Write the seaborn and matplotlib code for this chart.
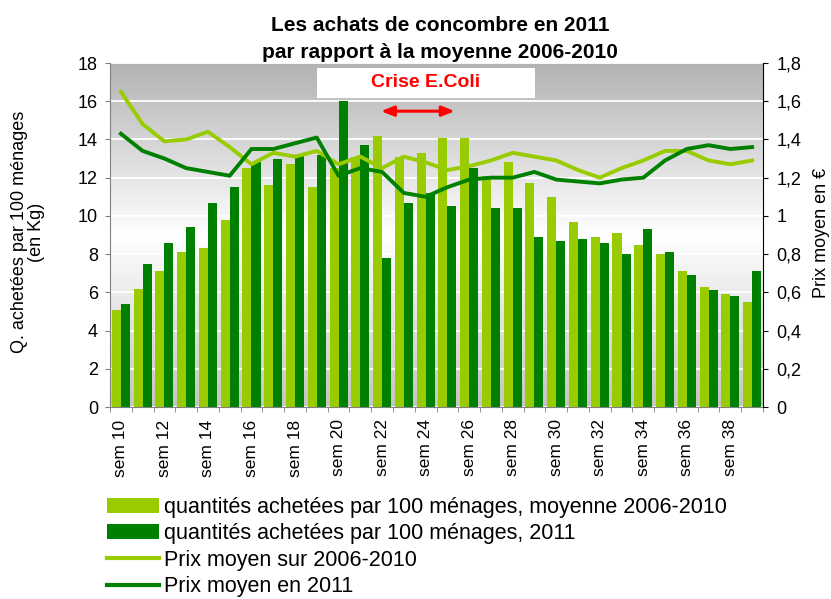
import numpy as np
import pandas as pd
import seaborn as sns
import matplotlib.pyplot as plt
from matplotlib.patches import Patch, Rectangle
from matplotlib.lines import Line2D
from matplotlib.ticker import FuncFormatter, MultipleLocator

# semaines 10 a 39
weeks = list(range(10, 40))
week_labels = [f"sem {w}" for w in weeks]

# quantites achetees par 100 menages (kg)
qty_avg = [5.1, 6.2, 7.1, 8.1, 8.3, 9.8, 12.5, 11.6, 12.7, 11.5,
           12.5, 13.1, 14.2, 13.1, 13.3, 14.1, 14.1, 12.1, 12.8, 11.7,
           11.0, 9.7, 8.9, 9.1, 8.5, 8.0, 7.1, 6.3, 5.9, 5.5]
qty_2011 = [5.4, 7.5, 8.6, 9.4, 10.7, 11.5, 12.8, 13.0, 13.2, 13.2,
            16.0, 13.7, 7.8, 10.7, 11.2, 10.5, 12.5, 10.4, 10.4, 8.9,
            8.7, 8.8, 8.6, 8.0, 9.3, 8.1, 6.9, 6.1, 5.8, 7.1]

# prix moyen (euros)
price_avg = [1.65, 1.48, 1.39, 1.40, 1.44, 1.36, 1.27, 1.33, 1.31, 1.34,
             1.27, 1.31, 1.25, 1.31, 1.28, 1.24, 1.26, 1.29, 1.33, 1.31,
             1.29, 1.24, 1.20, 1.25, 1.29, 1.34, 1.34, 1.29, 1.27, 1.29]
price_2011 = [1.43, 1.34, 1.30, 1.25, 1.23, 1.21, 1.35, 1.35, 1.38, 1.41,
              1.21, 1.25, 1.23, 1.12, 1.10, 1.15, 1.19, 1.20, 1.20, 1.23,
              1.19, 1.18, 1.17, 1.19, 1.20, 1.29, 1.35, 1.37, 1.35, 1.36]

legend_labels = ["quantités achetées par 100 ménages, moyenne 2006-2010",
                 "quantités achetées par 100 ménages, 2011",
                 "Prix moyen sur 2006-2010",
                 "Prix moyen en 2011"]

LIGHT = "#99CC00"
DARK = "#008000"

plt.rcParams['font.family'] = ['Liberation Sans', 'DejaVu Sans']

n = len(weeks)
df_qty = pd.DataFrame({
    "semaine": week_labels * 2,
    "quantite": qty_avg + qty_2011,
    "serie": [legend_labels[0]] * n + [legend_labels[1]] * n,
})
df_price = pd.DataFrame({
    "pos": list(range(n)) * 2,
    "prix": price_avg + price_2011,
    "serie": [legend_labels[2]] * n + [legend_labels[3]] * n,
})

fig = plt.figure(figsize=(8.31, 5.99), dpi=100)
ax = fig.add_axes([110/831, 1 - 407/599, 653/831, 344/599])

sns.barplot(data=df_qty, x="semaine", y="quantite", hue="serie", order=week_labels,
            hue_order=legend_labels[:2], palette=[LIGHT, DARK], saturation=1,
            width=0.83, linewidth=0, errorbar=None, legend=False, ax=ax)

# fond degrade gris / blanc / gris
t = np.linspace(0, 1, 256)
g = np.interp(t, [0, 0.5, 1], [0.70, 1.0, 0.77])
grad = np.dstack([g, g, g]).reshape(256, 1, 3)
ax.imshow(grad, extent=(0, 1, 0, 1), transform=ax.transAxes, aspect='auto', zorder=0)

ax.set_axisbelow(True)
ax.grid(axis='y', color='white', lw=1.3)
ax.grid(axis='x', visible=False)

ax2 = ax.twinx()
sns.lineplot(data=df_price, x="pos", y="prix", hue="serie", hue_order=legend_labels[2:],
             palette=[LIGHT, DARK], lw=2.8, legend=False, ax=ax2)

ax.set_xlim(-0.5, n - 0.5)
ax.set_ylim(0, 18)
ax2.set_ylim(0, 1.8)
ax.yaxis.set_major_locator(MultipleLocator(2))
ax2.yaxis.set_major_locator(MultipleLocator(0.2))
ax2.yaxis.set_major_formatter(FuncFormatter(
    lambda v, p: f"{v:.1f}".rstrip('0').rstrip('.').replace('.', ',')))

ax.set_xticks(range(0, n, 2), week_labels[::2], rotation=90)
ax.set_xticks(np.arange(-0.5, n), minor=True)
ax.tick_params(axis='x', which='major', length=0, pad=9, labelsize=12.5)
ax.tick_params(axis='x', which='minor', length=3.6, color='#808080')
ax.tick_params(axis='y', length=3.6, color='#808080', pad=5, labelsize=13)
ax2.tick_params(axis='y', length=3.6, color='black', pad=6, labelsize=13)

ax.set_xlabel('')
ax.set_ylabel('')
ax2.set_ylabel('')
for s in ['top', 'right']:
    ax.spines[s].set_visible(False)
for s in ['top', 'left', 'bottom']:
    ax2.spines[s].set_visible(False)
ax.spines['left'].set_color('#808080')
ax.spines['bottom'].set_color('#808080')
ax2.spines['right'].set_color('black')

# encadre Crise E.Coli
ax2.add_patch(Rectangle((0.317, 0.898), 0.334, 0.087, transform=ax2.transAxes,
                        facecolor='white', edgecolor='none', zorder=5))
ax2.text(0.484, 0.942, "Crise E.Coli", transform=ax2.transAxes, ha='center', va='center',
         color='red', fontsize=14, fontweight='bold', zorder=6)
ax2.annotate('', xy=(0.415, 0.860), xytext=(0.528, 0.860), xycoords='axes fraction',
             arrowprops=dict(arrowstyle='<|-|>,head_length=0.5,head_width=0.2',
                             color='red', lw=2.2, mutation_scale=15, shrinkA=0, shrinkB=0))

# titres
fig.text(440/831, 1 - 31/599, "Les achats de concombre en 2011", ha='center', va='baseline',
         fontsize=15, fontweight='bold')
fig.text(440/831, 1 - 58/599, "par rapport à la moyenne 2006-2010", ha='center', va='baseline',
         fontsize=15, fontweight='bold')
fig.text(28/831, 1 - 232/599, "Q. achetées par 100 ménages\n(en Kg)", rotation=90,
         ha='center', va='center', multialignment='center', fontsize=13, linespacing=1.05)
fig.text(821/831, 1 - 233/599, "Prix moyen en €", rotation=90, ha='center', va='center',
         fontsize=13)

handles = [Patch(facecolor=LIGHT), Patch(facecolor=DARK),
           Line2D([], [], color=LIGHT, lw=3), Line2D([], [], color=DARK, lw=3)]
fig.legend(handles, legend_labels, loc='upper left', bbox_to_anchor=(107/831, 1 - 497/599),
           frameon=False, fontsize=15.5, handlelength=2.4, handletextpad=0.25,
           labelspacing=0.25, borderpad=0, borderaxespad=0)

fig.savefig("out.png", dpi=100)
